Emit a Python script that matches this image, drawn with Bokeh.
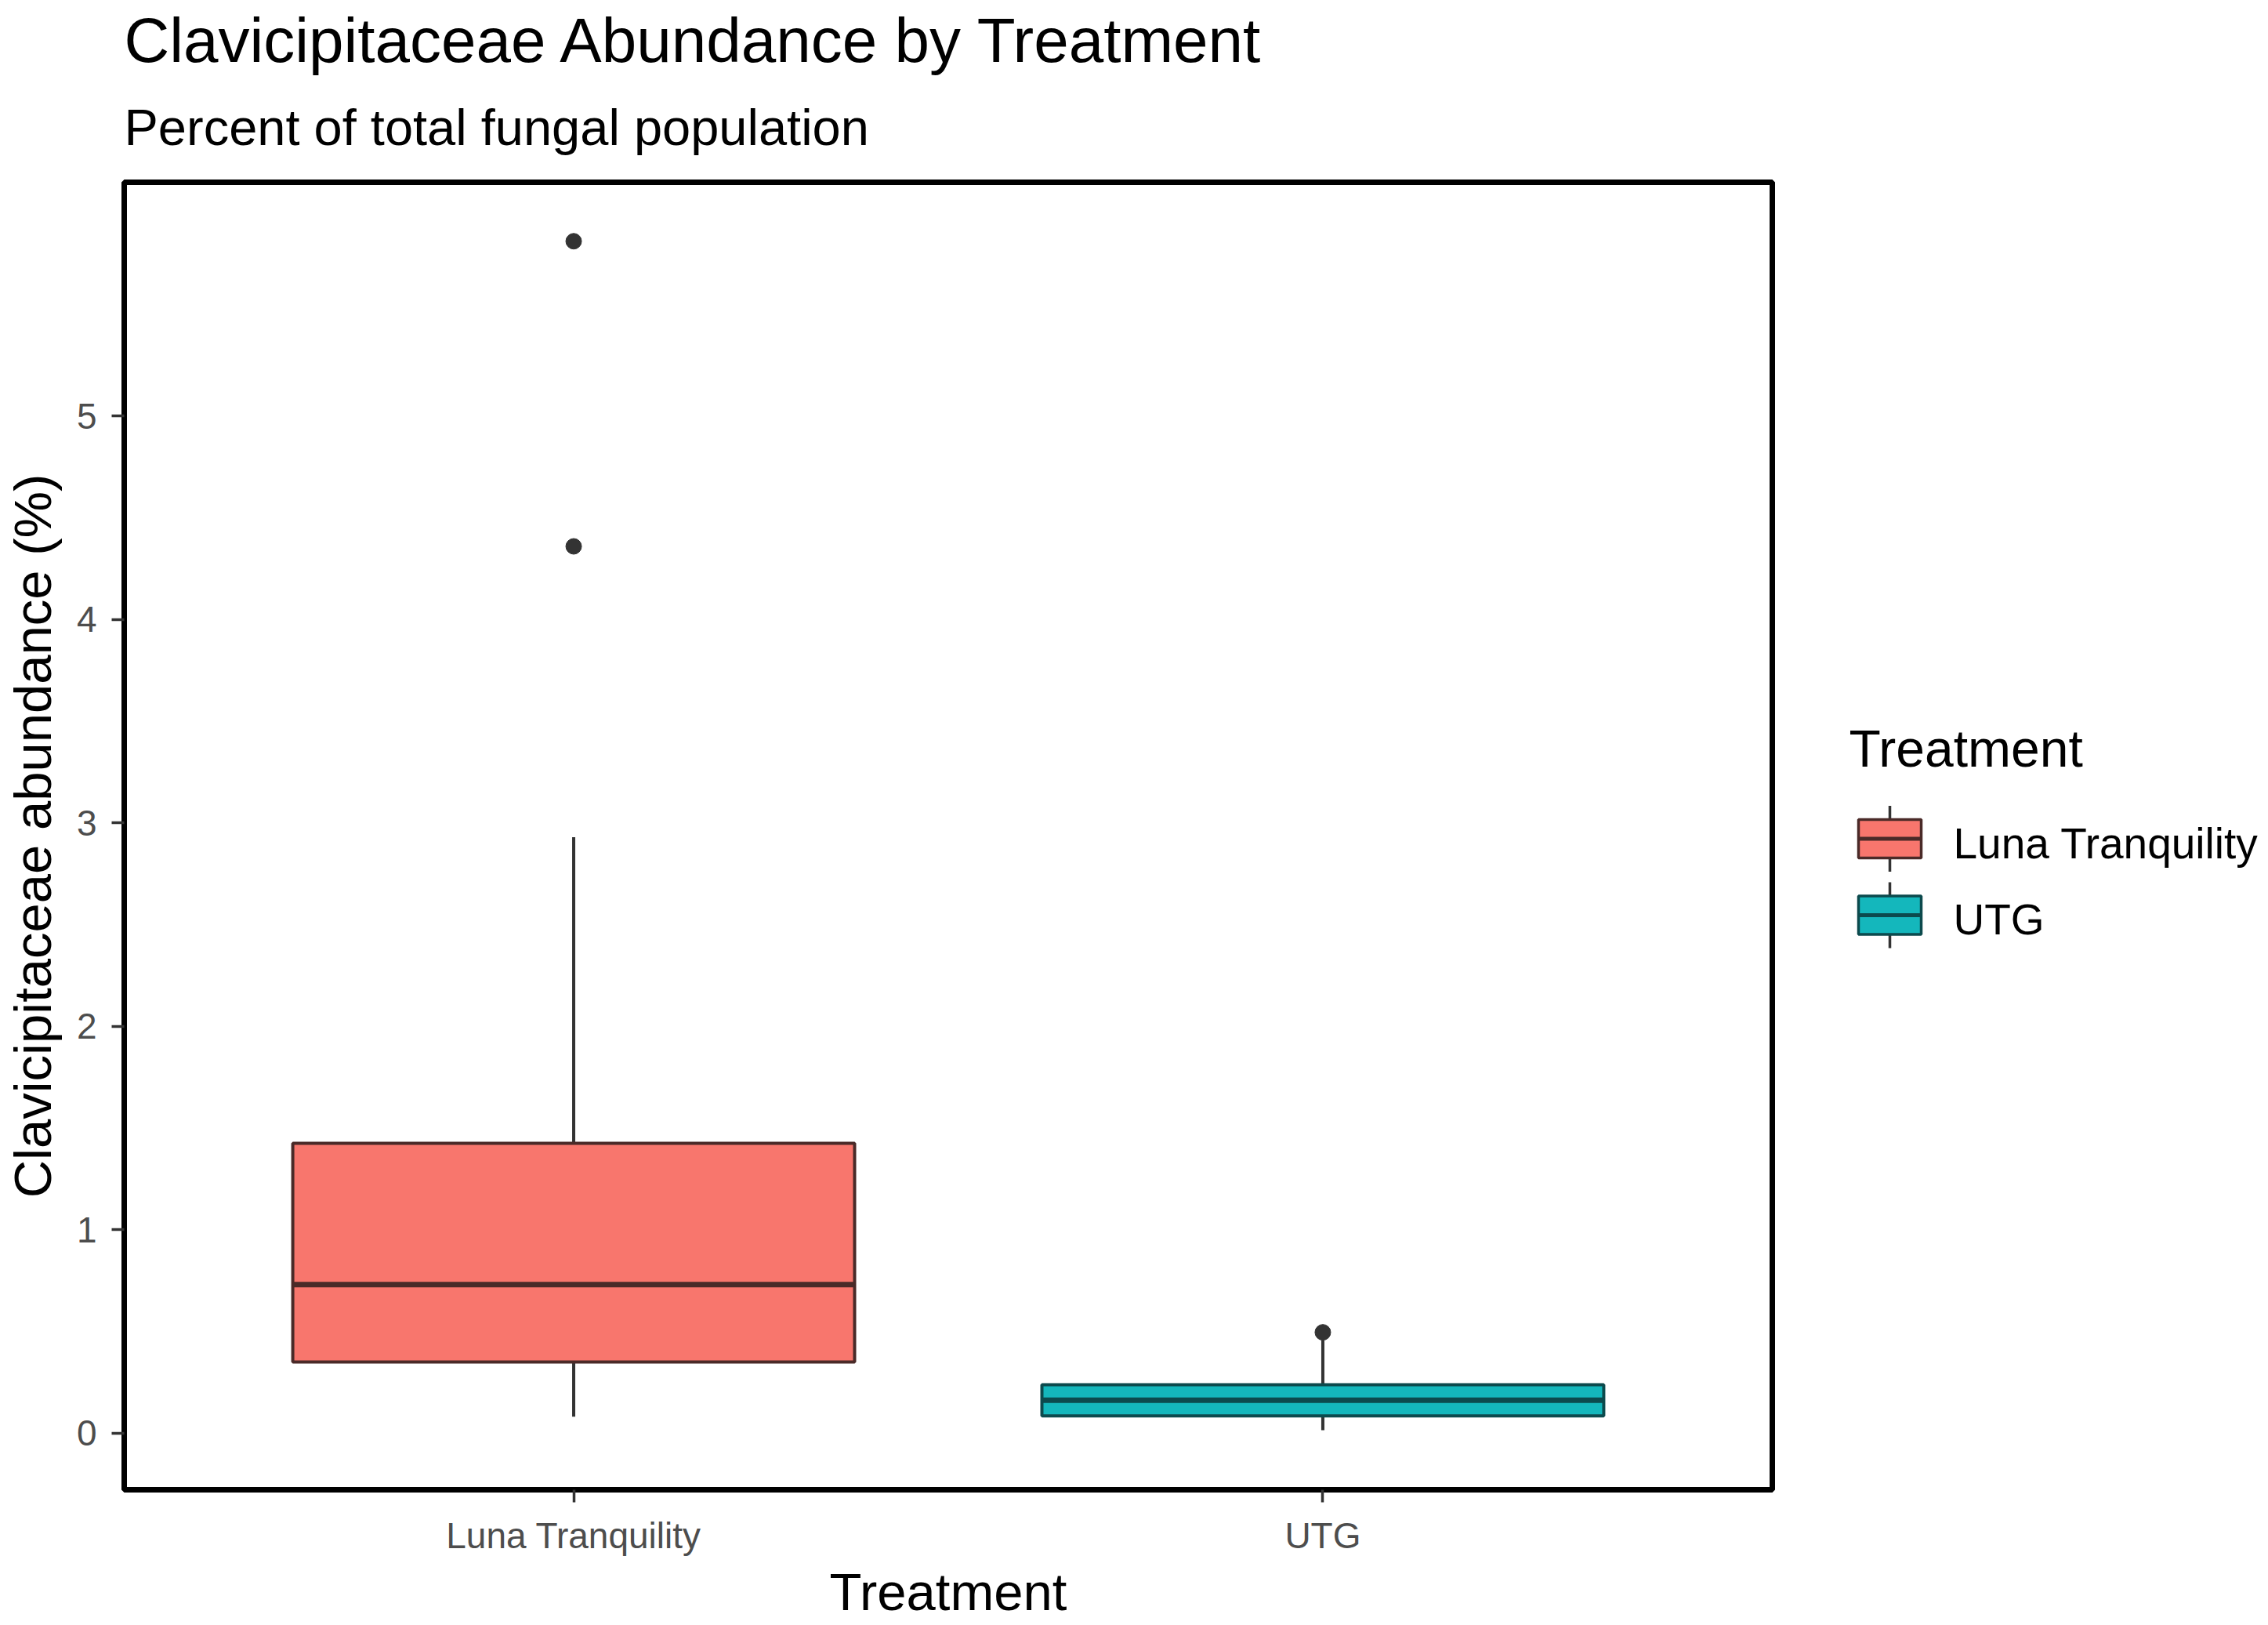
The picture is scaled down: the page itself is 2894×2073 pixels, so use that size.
from bokeh.plotting import figure
from bokeh.models import ColumnDataSource, FactorRange, Range1d, FixedTicker, Label, Title
from bokeh.layouts import row
from bokeh.transform import dodge
from bokeh.core.properties import value
from bokeh.embed import file_html
from bokeh.resources import INLINE

# ---------------- data ----------------
treatments = ["Luna Tranquility", "UTG"]
whisker_low = [0.081, 0.015]
q1 = [0.350, 0.085]
median = [0.731, 0.162]
q3 = [1.425, 0.238]
whisker_high = [2.93, 0.458]
outlier_treatment = ["Luna Tranquility", "Luna Tranquility", "UTG"]
outlier_value = [5.86, 4.36, 0.496]
y_ticks = [0, 1, 2, 3, 4, 5]

fill_colors = ["#F8766D", "#14B7BC"]
edge_colors = ["#4A2A28", "#0C4A4D"]

FONT = "Liberation Sans"
WHISKER = "#333333"

# layout (page pixels)
FRAME_L, FRAME_T, FRAME_W, FRAME_H = 157, 232, 2103, 1668
MAIN_W = 2338
BOTTOM = 170
LEG_W = 550

src = ColumnDataSource(dict(t=treatments, lo=whisker_low, q1=q1, med=median,
                            q3=q3, hi=whisker_high, fill=fill_colors, edge=edge_colors))
out_src = ColumnDataSource(dict(t=outlier_treatment, v=outlier_value))

# ---------------- main plot ----------------
p = figure(x_range=FactorRange(factors=treatments, range_padding=0.1),
           y_range=Range1d(-0.278, 6.15),
           frame_width=FRAME_W, frame_height=FRAME_H,
           min_border_left=FRAME_L, min_border_top=FRAME_T,
           min_border_right=MAIN_W - FRAME_L - FRAME_W, min_border_bottom=BOTTOM,
           title_location=None,
           output_backend="svg", toolbar_location=None)

p.segment(x0="t", y0="lo", x1="t", y1="q1", source=src, line_color=WHISKER, line_width=4)
p.segment(x0="t", y0="q3", x1="t", y1="hi", source=src, line_color=WHISKER, line_width=4)
p.vbar(x="t", width=0.75, bottom="q1", top="q3", source=src,
       fill_color="fill", line_color="edge", line_width=4)
p.segment(x0=dodge("t", -0.375, range=p.x_range), y0="med",
          x1=dodge("t", 0.375, range=p.x_range), y1="med",
          source=src, line_color="edge", line_width=7)
p.scatter(x="t", y="v", source=out_src, size=20, fill_color=WHISKER, line_color=WHISKER)

p.xgrid.grid_line_color = None
p.ygrid.grid_line_color = None
p.outline_line_color = "black"
p.outline_line_width = 7
p.background_fill_color = "white"
p.border_fill_color = "white"

p.yaxis.ticker = FixedTicker(ticks=y_ticks)
for ax in (p.xaxis[0], p.yaxis[0]):
    ax.axis_line_color = None
    ax.major_tick_line_color = "#333333"
    ax.major_tick_line_width = 3.5
    ax.major_tick_out = 16
    ax.major_tick_in = 0
    ax.minor_tick_line_color = None
    ax.major_label_text_font = FONT
    ax.major_label_text_font_size = "46px"
    ax.major_label_text_color = "#4D4D4D"
    ax.axis_label_text_font = FONT
    ax.axis_label_text_font_style = "normal"
    ax.axis_label_text_font_size = "67px"
    ax.axis_label_text_color = "black"

p.xaxis.axis_label = "Treatment"
p.xaxis.major_label_standoff = 16
p.xaxis.axis_label_standoff = 5
p.yaxis.axis_label = "Clavicipitaceae abundance (%)"
p.yaxis.major_label_standoff = 19
p.yaxis.axis_label_standoff = 16

p.add_layout(Title(text="Percent of total fungal population", align="left", offset=0,
                   text_font=FONT, text_font_size="65px", text_font_style="normal",
                   text_color="black", standoff=68, vertical_align="bottom"), "above")
p.add_layout(Title(text="Clavicipitaceae Abundance by Treatment", align="left", offset=0,
                   text_font=FONT, text_font_size="80px", text_font_style="normal",
                   text_color="black", standoff=-12, vertical_align="bottom"), "above")

# ---------------- legend panel (coordinates = page pixels) ----------------
lg = figure(frame_width=LEG_W, frame_height=FRAME_H,
            min_border_left=0, min_border_right=0,
            min_border_top=FRAME_T, min_border_bottom=BOTTOM,
            x_range=Range1d(MAIN_W, MAIN_W + LEG_W),
            y_range=Range1d(FRAME_T + FRAME_H, FRAME_T),
            title_location=None, output_backend="svg", toolbar_location=None)
lg.axis.visible = False
lg.xgrid.grid_line_color = None
lg.ygrid.grid_line_color = None
lg.outline_line_color = None
lg.background_fill_color = "white"
lg.border_fill_color = "white"

key_x = [2410, 2410]
key_y = [1069.5, 1167]
key_half_h = 24.5
key_half_w = 40
whisk_half = 42
key_src = ColumnDataSource(dict(
    x=key_x, y=key_y,
    top=[y - key_half_h for y in key_y], bottom=[y + key_half_h for y in key_y],
    left=[x - key_half_w for x in key_x], right=[x + key_half_w for x in key_x],
    wt=[y - whisk_half for y in key_y], wb=[y + whisk_half for y in key_y],
    fill=fill_colors, edge=edge_colors, label=treatments,
    lx=[2491, 2491], ly=[y + 5.5 for y in key_y]))

lg.segment(x0="x", y0="wt", x1="x", y1="wb", source=key_src, line_color=WHISKER, line_width=3.5)
lg.quad(left="left", right="right", top="top", bottom="bottom", source=key_src,
        fill_color="fill", line_color="edge", line_width=3.5)
lg.segment(x0="left", y0="y", x1="right", y1="y", source=key_src, line_color="edge", line_width=5)
lg.text(x="lx", y="ly", text="label", source=key_src, text_font=value(FONT),
        text_font_size="55px", text_color="black", text_baseline="alphabetic", text_align="left")
lg.add_layout(Label(x=2358, y=954, text="Treatment", text_font=FONT, text_font_size="66px",
                    text_color="black", text_baseline="alphabetic", text_align="left"))

layout = row(p, lg)
open("out.html", "w").write(file_html(layout, INLINE))
